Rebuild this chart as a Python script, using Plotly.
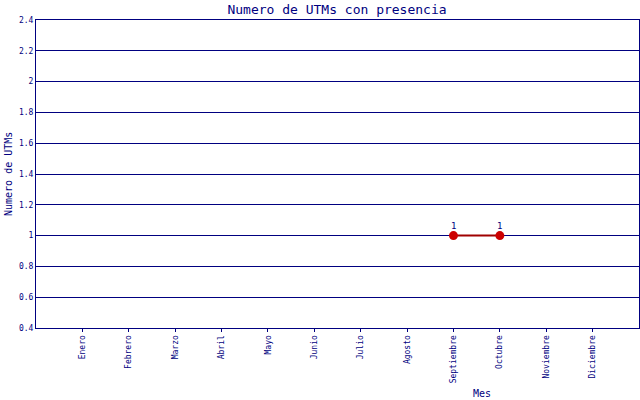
import plotly.graph_objects as go

months = ["Enero", "Febrero", "Marzo", "Abril", "Mayo", "Junio", "Julio",
          "Agosto", "Septiembre", "Octubre", "Noviembre", "Diciembre"]
utms = [None, None, None, None, None, None, None, None, 1, 1, None, None]
y_ticks = [0.4, 0.6, 0.8, 1, 1.2, 1.4, 1.6, 1.8, 2, 2.2, 2.4]

NAVY = "#000080"
FONT = "DejaVu Sans Mono"

x_pos = list(range(1, len(months) + 1))

# plot area in pixels, as in the original
L, R, T, B = 36, 1, 20, 72
plot_w = 640 - L - R
plot_h = 400 - T - B

fig = go.Figure()
fig.add_trace(go.Scatter(
    x=x_pos,
    y=utms,
    mode="lines+markers",
    line=dict(color="#a00000", width=2),
    marker=dict(color="#cc0000", size=9),
    connectgaps=False,
    showlegend=False,
    cliponaxis=False,
))

# value labels just above each point
annotations = [
    dict(x=xv, y=v, xref="x", yref="y", text=f"{v:g}", showarrow=False,
         yshift=10, font=dict(family=FONT, size=9, color=NAVY))
    for xv, v in zip(x_pos, utms) if v is not None
]

annotations += [
    dict(text="Mes", x=(482 - L) / plot_w, y=-(393 - 328) / plot_h,
         xref="paper", yref="paper", xanchor="center", yanchor="middle",
         showarrow=False, font=dict(family=FONT, size=10, color=NAVY)),
    dict(text="Numero de UTMs", x=-(L - 8) / plot_w, y=0.5,
         xref="paper", yref="paper", xanchor="center", yanchor="middle",
         textangle=-90, showarrow=False,
         font=dict(family=FONT, size=10, color=NAVY)),
]

fig.update_layout(
    width=640,
    height=400,
    paper_bgcolor="white",
    plot_bgcolor="white",
    margin=dict(l=L, r=R, t=T, b=B, autoexpand=False),
    title=dict(text="Numero de UTMs con presencia", x=337 / 640, xanchor="center",
               y=1 - 9 / 400, yanchor="middle",
               font=dict(family=FONT, size=13, color=NAVY)),
    xaxis=dict(
        range=[0, len(months) + 1],
        tickvals=x_pos,
        ticktext=months,
        tickangle=-90,
        tickfont=dict(family=FONT, size=8, color=NAVY),
        showgrid=False,
        zeroline=False,
        showline=True,
        linecolor=NAVY,
        linewidth=1,
        mirror=True,
        ticks="outside",
        ticklen=3,
        tickcolor=NAVY,
        automargin=False,
    ),
    yaxis=dict(
        range=[0.4, 2.4],
        tickvals=y_ticks,
        ticktext=[f"{v:g}" for v in y_ticks],
        tickfont=dict(family=FONT, size=8, color=NAVY),
        showgrid=True,
        gridcolor=NAVY,
        gridwidth=1,
        zeroline=False,
        showline=True,
        linecolor=NAVY,
        linewidth=1,
        mirror=True,
        ticklen=0,
        automargin=False,
    ),
    annotations=annotations,
)

# drop the page's default body margin so the figure sits at the top-left corner
fig.write_html(
    "out.html",
    config={"displayModeBar": False},
    post_script="document.body.style.margin='0';document.body.style.overflow='hidden';",
)
